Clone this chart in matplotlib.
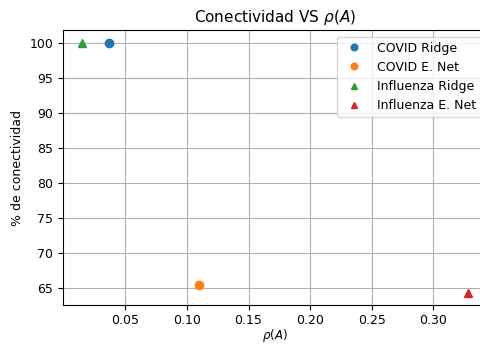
import matplotlib.pyplot as plt

# rho(A) and % connectivity for each model
labels = ['COVID Ridge', 'COVID E. Net', 'Influenza Ridge', 'Influenza E. Net']
markers = ['o', 'o', '^', '^']
rho = [0.037, 0.110, 0.015, 0.328]
conect = [100.0, 65.4, 100.0, 64.3]

fig = plt.figure(figsize=(4.8, 3.45), dpi=100)
ax = fig.add_axes([0.131, 0.1145, 0.884, 0.7975])

for lab, m, x, y in zip(labels, markers, rho, conect):
    ax.plot([x], [y], marker=m, linestyle='none', markersize=6, label=lab)

ax.set_title(r'Conectividad VS $\rho(A)$', fontsize=11)
ax.set_xlabel(r'$\rho(A)$', fontsize=8.5, labelpad=0)
ax.set_ylabel('% de conectividad', fontsize=9)
ax.tick_params(labelsize=9)
ax.tick_params(axis='x', pad=2.5)
ax.set_xticks([0.05, 0.10, 0.15, 0.20, 0.25, 0.30])
ax.set_yticks([65, 70, 75, 80, 85, 90, 95, 100])
ax.grid(True)
ax.legend(loc='upper right', fontsize=9, markerscale=0.8)

fig.savefig('out.png', dpi=100)
